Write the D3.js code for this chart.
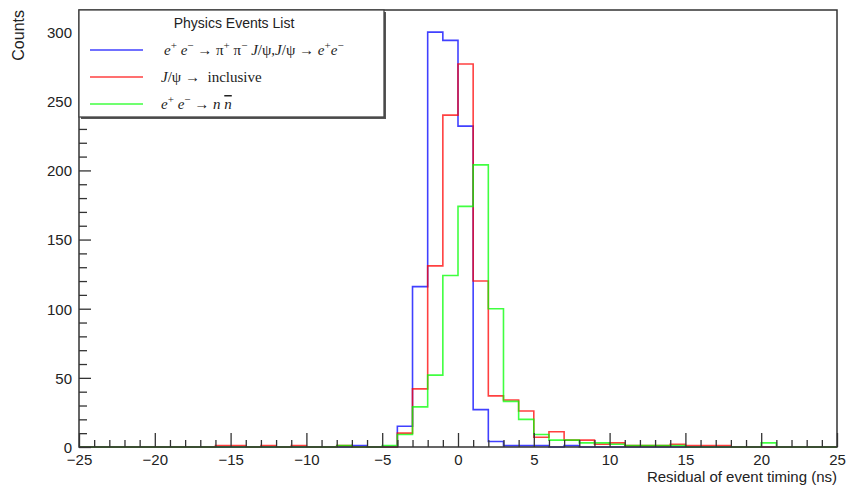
<!DOCTYPE html>
<html>
<head>
<meta charset="utf-8">
<script src="https://cdn.jsdelivr.net/npm/d3@7"></script>
<style>
  html, body { margin: 0; padding: 0; background: #fff; }
  svg { display: block; }
</style>
</head>
<body>
<svg id="chart" width="846" height="487"></svg>
<script>
// ---------- data ----------
const binStart = -25, binWidth = 1;
// bins [-25,-24] ... [24,25]
const blueCounts = [
  0,0,0,0,0, 0,0,0,0,0, 0,0,0,0,0, 0,0,0,1,0, 0,15,116,300,294,
  232,27,4,1,1, 1,0,1,0,0, 0,0,0,0,0, 0,0,0,0,0, 0,0,0,0,0
];
const redCounts = [
  0,0,0,0,0, 0,0,0,0,1, 1,0,1,0,1, 0,0,1,0,0, 0,10,42,131,240,
  277,120,37,34,26, 7,11,5,5,2, 3,1,1,1,2, 1,1,1,0,0, 0,0,0,0,0
];
const greenCounts = [
  0,0,0,0,0, 0,0,0,0,0, 0,0,0,0,0, 0,0,1,0,0, 1,9,29,52,124,
  174,204,100,33,20, 9,5,5,3,3, 2,1,1,1,1, 0,0,0,0,0, 3,0,0,0,0
];
const xTicks = [-25,-20,-15,-10,-5,0,5,10,15,20,25];
const yTicks = [0,50,100,150,200,250,300];
const xTitle = "Residual of event timing (ns)";
const yTitle = "Counts";
const legendTitle = "Physics Events List";
// legend labels as segments: [text, italic, superscript, overline]
const legendLabels = [
  [["e",1,0],["+",0,1],[" ",0,0],["e",1,0],["\u2212",0,1],[" \u2192 \u03c0",0,0],["+",0,1],[" \u03c0",0,0],["\u2212",0,1],[" ",0,0],["J",1,0],["/\u03c8,",0,0],["J",1,0],["/\u03c8 \u2192 ",0,0],["e",1,0],["+",0,1],["e",1,0],["\u2212",0,1]],
  [["J",1,0],["/\u03c8 \u2192  inclusive",0,0]],
  [["e",1,0],["+",0,1],[" ",0,0],["e",1,0],["\u2212",0,1],[" \u2192 ",0,0],["n",1,0],[" ",0,0],["n",1,0,1]]
];
const seriesColors = ["#0000ff", "#ff0000", "#00ff00"];
const seriesData = [blueCounts, redCounts, greenCounts];

// ---------- layout ----------
const svg = d3.select("#chart");
const fx0 = 79, fx1 = 837, fy0 = 10, fy1 = 447;
const x = d3.scaleLinear().domain([-25, 25]).range([fx0, fx1]);
const y = d3.scaleLinear().domain([0, 316]).range([fy1, fy0]);
const axisColor = "#333";
const font = "'Liberation Sans', Arial, Helvetica, sans-serif";

// ---------- histograms ----------
const line = d3.line()
  .x(d => x(d[0])).y(d => y(d[1]))
  .curve(d3.curveStepAfter);

seriesData.forEach((counts, k) => {
  const pts = counts.map((c, i) => [binStart + i * binWidth, c]);
  pts.push([binStart + counts.length * binWidth, counts[counts.length - 1]]);
  svg.append("path")
    .attr("d", line(pts))
    .attr("fill", "none")
    .attr("stroke", seriesColors[k])
    .attr("stroke-width", 1.6)
    .attr("stroke-opacity", 0.75);
});

// ---------- axes ----------
const yMinor = d3.range(0, 317, 10).filter(v => v % 50 !== 0);
const xMinor = d3.range(-25, 26, 1).filter(v => v % 5 !== 0);

const yAxis = svg.append("g").attr("transform", `translate(${fx0},0)`)
  .call(d3.axisLeft(y).tickValues(yTicks).tickSizeInner(-12).tickSizeOuter(0).tickPadding(7).tickFormat(d3.format("d")));
svg.append("g").attr("transform", `translate(${fx0},0)`)
  .call(d3.axisLeft(y).tickValues(yMinor).tickSizeInner(-8).tickSizeOuter(0).tickFormat(""));

const xAxis = svg.append("g").attr("transform", `translate(0,${fy1})`)
  .call(d3.axisBottom(x).tickValues(xTicks).tickSizeInner(-14).tickSizeOuter(0).tickPadding(6)
    .tickFormat(d => d < 0 ? "\u2212" + Math.abs(d) : String(d)));
svg.append("g").attr("transform", `translate(0,${fy1})`)
  .call(d3.axisBottom(x).tickValues(xMinor).tickSizeInner(-7).tickSizeOuter(0).tickFormat(""));

svg.selectAll(".domain").remove();
svg.selectAll(".tick line").attr("stroke", axisColor).attr("stroke-width", 1.3);
svg.selectAll(".tick text").attr("fill", "#222").style("font-family", font).style("font-size", "15px");
xAxis.selectAll(".tick text").attr("dy", "0.78em");
yAxis.selectAll(".tick text").attr("dy", "0.36em");

// frame
svg.append("rect")
  .attr("x", fx0).attr("y", fy0).attr("width", fx1 - fx0).attr("height", fy1 - fy0)
  .attr("fill", "none").attr("stroke", axisColor).attr("stroke-width", 1.5);

// axis titles
svg.append("text")
  .attr("x", fx1).attr("y", 482)
  .attr("text-anchor", "end")
  .style("font-family", font).style("font-size", "15px").attr("fill", "#222")
  .text(xTitle);
svg.append("text")
  .attr("transform", `translate(24,${fy0}) rotate(-90)`)
  .attr("text-anchor", "end")
  .style("font-family", font).style("font-size", "16px").attr("fill", "#222")
  .text(yTitle);

// ---------- legend ----------
const lg = svg.append("g");
const lx0 = fx0, ly0 = fy0, lw = 305, lh = 107;
lg.append("rect").attr("x", lx0 + 2).attr("y", ly0 + 2).attr("width", lw).attr("height", lh).attr("fill", "#555");
lg.append("rect").attr("x", lx0).attr("y", ly0).attr("width", lw).attr("height", lh)
  .attr("fill", "#fff").attr("stroke", "#444").attr("stroke-width", 1.3);
lg.append("text")
  .attr("x", 234).attr("y", 28).attr("text-anchor", "middle")
  .style("font-family", font).style("font-size", "14px").attr("fill", "#222")
  .text(legendTitle);

const entryY = [50, 77, 104];
const textX = [164, 161, 161];
legendLabels.forEach((segs, k) => {
  lg.append("line")
    .attr("x1", 90).attr("x2", 143).attr("y1", entryY[k]).attr("y2", entryY[k])
    .attr("stroke", seriesColors[k]).attr("stroke-width", 1.6).attr("stroke-opacity", 0.75);
  const t = lg.append("text")
    .attr("x", textX[k]).attr("y", entryY[k] + 5)
    .style("font-family", "'Liberation Serif', 'Times New Roman', serif")
    .style("font-size", "15px").attr("fill", "#222")
    .attr("xml:space", "preserve").style("white-space", "pre");
  let raised = false;
  segs.forEach(([s, it, sup, over]) => {
    const ts = t.append("tspan").text(s);
    if (it) ts.style("font-style", "italic");
    if (sup && !raised) { ts.attr("dy", -6); raised = true; }
    else if (!sup && raised) { ts.attr("dy", 6); raised = false; }
    if (sup) ts.style("font-size", "11px");
    if (over) ts.style("text-decoration", "overline");
  });
});
</script>
</body>
</html>
